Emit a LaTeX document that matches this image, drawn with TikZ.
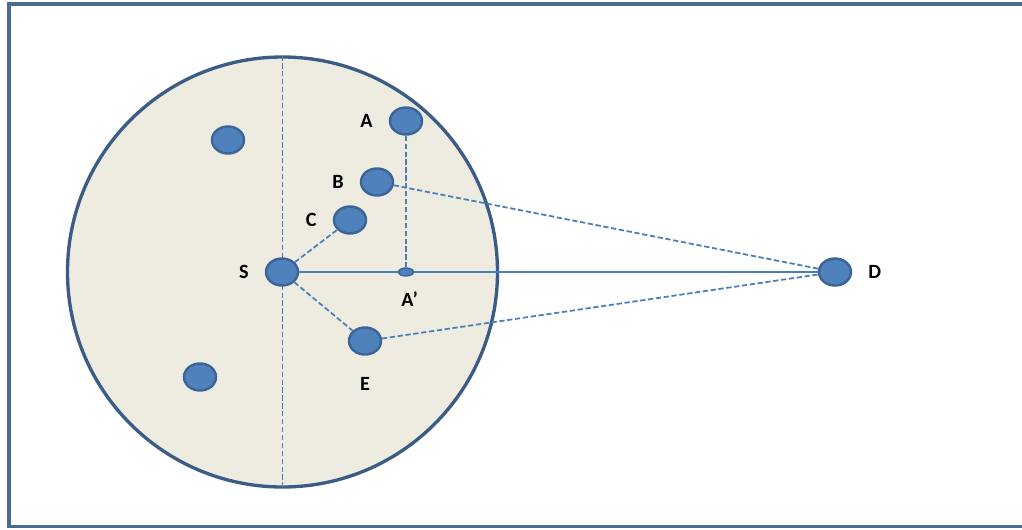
\documentclass[tikz,border=0pt]{standalone}
\usepackage{fontspec}
\setmainfont{Carlito}
\usepackage{xcolor}
\usepackage{tikz}
\usetikzlibrary{positioning, shapes.geometric, calc}

\definecolor{framecol}{HTML}{4B6A8E}
\definecolor{ringfill}{HTML}{EEECE1}
\definecolor{ringline}{HTML}{3B5C86}
\definecolor{dotfill}{HTML}{4F81BD}
\definecolor{dotline}{HTML}{3A6596}
\definecolor{linkcol}{HTML}{4A7EBB}

\begin{document}
\begin{tikzpicture}[
    node distance=0.28cm,
    dot/.style={
        ellipse, draw=dotline, fill=dotfill, line width=1.4pt,
        minimum width=0.64cm, minimum height=0.54cm, inner sep=0pt
    },
    smalldot/.style={
        dot, line width=0.8pt, minimum width=0.3cm, minimum height=0.16cm
    },
    ring/.style={
        circle, draw=ringline, fill=ringfill, line width=1.9pt,
        minimum size=8.6cm, inner sep=0pt
    },
    lbl/.style={font=\fontsize{11.5}{13}\selectfont\bfseries, inner sep=1pt},
    link/.style={draw=linkcol, line width=1pt},
    dlink/.style={draw=linkcol, line width=1pt, dash pattern=on 3pt off 1.5pt}
]
    \useasboundingbox (0,0) rectangle (20.44,10.58);
    \draw[framecol, line width=1.8pt] (20.44,10.5) -- (0.18,10.5) -- (0.18,0.05) -- (20.44,0.05);

    \node[ring] (cell) at (5.65,5.14) {};

    \draw[dlink] (cell.north) -- (cell.south);

    \node[dot] (S) at (5.64,5.14) {};
    \node[dot] (A) at (8.12,8.16) {};
    \node[dot] (B) at (7.54,6.94) {};
    \node[dot] (C) at (7.00,6.18) {};
    \node[dot] (E) at (7.30,3.76) {};
    \node[dot] (D) at (16.70,5.14) {};
    \node[dot] (n1) at (4.56,7.78) {};
    \node[dot] (n2) at (4.00,3.04) {};
    \node[smalldot] (Ap) at (8.12,5.14) {};

    \node[lbl, left=of A] (lA) {A};
    \node[lbl, left=of B] (lB) {B};
    \node[lbl, left=of C] (lC) {C};
    \node[lbl, left=of S] (lS) {S};
    \node[lbl, right=of D] (lD) {D};
    \node[lbl, below=0.4cm of E] (lE) {E};
    \node[lbl, below=0.26cm of Ap, xshift=2pt] (lAp) {A’};

    \draw[link] (S) -- (Ap);
    \draw[link] (Ap) -- (D);
    \draw[dlink] (A) -- (Ap);
    \draw[dlink] (S) -- (C);
    \draw[dlink] (S) -- (E);
    \draw[dlink] (B) -- (D);
    \draw[dlink] (E) -- (D);
\end{tikzpicture}
\end{document}
